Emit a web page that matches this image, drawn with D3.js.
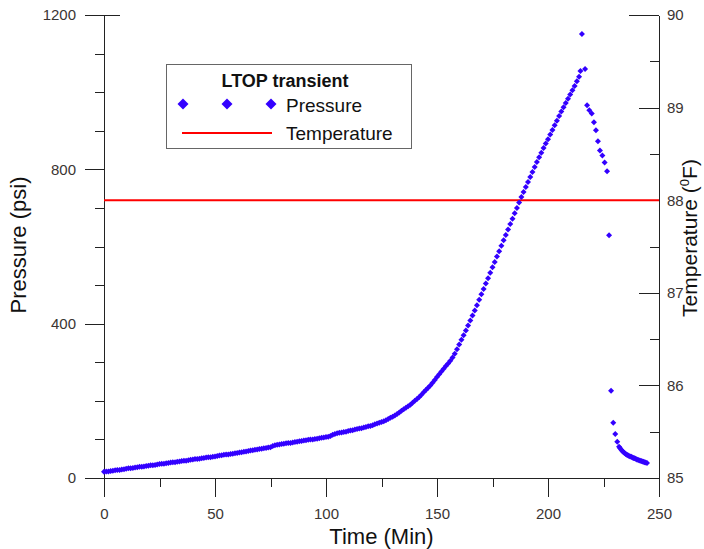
<!DOCTYPE html>
<html>
<head>
<meta charset="utf-8">
<script src="https://cdn.jsdelivr.net/npm/d3@7"></script>
<style>
  body { margin: 0; background: #fff; }
  text { font-family: "Liberation Sans", Arial, sans-serif; }
</style>
</head>
<body>
<div id="chart"></div>
<script>
// pressure readings (time in min, pressure in psi)
var pTime = [
  0,1,2,3,4,5,6,7,8,9,10,11,12,13,14,15,16,17,18,19,20,21,22,23,24,25,26,27,28,29,
  30,31,32,33,34,35,36,37,38,39,40,41,42,43,44,45,46,47,48,49,50,51,52,53,54,55,56,57,58,59,
  60,61,62,63,64,65,66,67,68,69,70,71,72,73,74,75,76,77,78,79,80,81,82,83,84,85,86,87,88,89,
  90,91,92,93,94,95,96,97,98,99,100,101,102,103,104,105,106,107,108,109,110,111,112,113,114,115,116,117,118,119,
  120,121,122,123,124,125,126,127,128,129,130,131,132,133,134,135,136,137,138,139,140,141,142,143,144,145,146,147,148,149,
  150,151,152,153,154,155,156,157,158,159,160,161,162,163,164,165,166,167,168,169,170,171,172,173,174,175,176,177,178,179,
  180,181,182,183,184,185,186,187,188,189,190,191,192,193,194,195,196,197,198,199,200,201,202,203,204,205,206,207,208,209,
  210,211,212,213,214,214.6,215.3,216.7,
  217.6,218.6,219.7,220.7,221.6,222.5,223.4,224.5,225.5,226.6,227.5,228.4,229.4,230.3,231.2,
  232,232.5,233,233.5,234,234.5,235,235.5,236,236.5,237,237.5,238,238.5,239,239.5,240,240.5,
  241,241.5,242,242.5,243,243.5,244,244.6
];
var pValue = [
  16,17,17,18,19,20,21,21,22,23,24,25,25,26,27,28,29,29,30,31,32,33,33,34,35,36,37,37,38,39,
  40,41,41,42,43,44,45,45,46,47,48,49,49,50,51,52,53,54,54,55,56,57,58,59,60,61,61,62,63,64,
  65,66,67,68,69,70,71,72,73,74,75,76,77,78,79,80,83,85,86,87,88,89,90,91,91,92,93,94,95,96,
  97,98,99,100,100,101,102,103,104,105,106,107,109,112,114,116,117,118,119,120,122,123,124,126,127,128,129,131,132,134,
  135,137,139,141,143,145,147,150,153,156,159,162,166,170,174,178,182,186,190,195,200,205,210,216,222,228,234,240,247,254,
  262,269,276,283,290,297,304,312,322,334,346,358,370,382,395,408,421,434,448,462,476,490,504,518,532,546,560,574,588,602,
  616,630,644,658,672,686,700,714,728,741,754,767,780,793,806,819,831,843,855,867,878,890,902,914,926,938,950,961,972,983,
  994,1005,1016,1028,1040,1055,1151,1060,
  966,953,945,922,901,873,849,836,818,795,629,226,143,114,94,
  81,77,73,70,67,65,62,60,59,57,56,55,53,52,51,50,48,47,
  46,45,44,43,42,41,40,39
];
// temperature (degF)
var tTime = [0, 250];
var tValue = [88, 88];

var xMajor = [0, 50, 100, 150, 200, 250];
var xMinor = [25, 75, 125, 175, 225];
var yMajor = [0, 400, 800, 1200];
var yMinor = [100, 200, 300, 500, 600, 700, 900, 1000, 1100];
var rMajor = [85, 86, 87, 88, 89, 90];
var rMinor = [85.5, 86.5, 87.5, 88.5, 89.5];

var width = 704, height = 549;
var margin = {left: 104, right: 45, top: 15, bottom: 71};

var svg = d3.select("#chart").append("svg").attr("width", width).attr("height", height);

var xScale = d3.scaleLinear().domain([0, 250]).range([margin.left, width - margin.right]);
var yScale = d3.scaleLinear().domain([0, 1200]).range([height - margin.bottom, margin.top]);
var rScale = d3.scaleLinear().domain([85, 90]).range([height - margin.bottom, margin.top]);

var axisColor = "#222";
var labelColor = "#3b3533";
var fmt = d3.format("d");

function styleAxis(g) {
    g.select(".domain").attr("stroke", axisColor).attr("shape-rendering", "crispEdges");
    g.selectAll(".tick line").attr("stroke", axisColor).attr("shape-rendering", "crispEdges");
    g.selectAll(".tick text").attr("fill", labelColor).attr("font-size", "15px")
        .attr("font-family", "'Liberation Sans', Arial, sans-serif");
}

// x axis
svg.append("g")
    .attr("transform", "translate(0," + (height - margin.bottom) + ")")
    .call(d3.axisBottom(xScale).tickValues(xMinor).tickSize(9).tickSizeOuter(0).tickFormat(""))
    .call(styleAxis);
svg.append("g")
    .attr("transform", "translate(0," + (height - margin.bottom) + ")")
    .call(d3.axisBottom(xScale).tickValues(xMajor).tickSize(19).tickSizeOuter(0).tickPadding(11).tickFormat(fmt))
    .call(styleAxis);

// left axis
svg.append("g")
    .attr("transform", "translate(" + margin.left + ",0)")
    .call(d3.axisLeft(yScale).tickValues(yMinor).tickSize(9).tickSizeOuter(0).tickFormat(""))
    .call(styleAxis);
var gl = svg.append("g")
    .attr("transform", "translate(" + margin.left + ",0)")
    .call(d3.axisLeft(yScale).tickValues(yMajor).tickSize(19).tickSizeOuter(0).tickPadding(9).tickFormat(fmt))
    .call(styleAxis);
// top tick runs a little into the plot
gl.selectAll(".tick").filter(function(d) { return d === 1200; })
    .select("line").attr("x2", 16).attr("x1", -19);

// right axis
svg.append("g")
    .attr("transform", "translate(" + (width - margin.right) + ",0)")
    .call(d3.axisRight(rScale).tickValues(rMinor).tickSize(-9).tickSizeOuter(0).tickFormat(""))
    .call(styleAxis);
var gr = svg.append("g")
    .attr("transform", "translate(" + (width - margin.right) + ",0)")
    .call(d3.axisRight(rScale).tickValues(rMajor).tickSize(-20).tickSizeOuter(0).tickPadding(8).tickFormat(fmt))
    .call(styleAxis);
gr.selectAll(".tick").filter(function(d) { return d === 90; })
    .select("line").attr("x2", -30);

// axis titles
svg.append("text")
    .attr("x", (xScale(0) + xScale(250)) / 2).attr("y", 544)
    .attr("text-anchor", "middle").attr("font-size", "22px").attr("fill", "#111")
    .text("Time (Min)");

svg.append("text")
    .attr("transform", "translate(26," + 245 + ") rotate(-90)")
    .attr("text-anchor", "middle").attr("font-size", "22px").attr("fill", "#111")
    .text("Pressure (psi)");

var tTitle = svg.append("text")
    .attr("transform", "translate(697," + 238 + ") rotate(-90)")
    .attr("text-anchor", "middle").attr("font-size", "21px").attr("fill", "#111");
tTitle.append("tspan").text("Temperature (");
tTitle.append("tspan").attr("font-size", "13px").attr("dy", "-8").text("0");
tTitle.append("tspan").attr("dy", "8").text("F)");

// temperature line
var tData = tTime.map(function(d, i) { return {t: d, v: tValue[i]}; });
var lineT = d3.line()
    .x(function(d) { return xScale(d.t); })
    .y(function(d) { return rScale(d.v); });
svg.append("path")
    .attr("d", lineT(tData))
    .attr("stroke", "#ff0000").attr("stroke-width", 2).attr("fill", "none");

// pressure points
var pColor = "#3300ff";
var pData = pTime.map(function(d, i) { return {t: d, v: pValue[i]}; });
function diamond(r) {
    return "M0," + (-r) + "L" + r + ",0L0," + r + "L" + (-r) + ",0Z";
}
svg.append("g")
    .selectAll("path")
    .data(pData)
    .enter()
    .append("path")
    .attr("transform", function(d) { return "translate(" + xScale(d.t) + "," + yScale(d.v) + ")"; })
    .attr("d", diamond(3))
    .attr("fill", pColor);

// legend
var lg = svg.append("g");
lg.append("rect")
    .attr("x", 166.5).attr("y", 64.5).attr("width", 245).attr("height", 84)
    .attr("fill", "#fff").attr("stroke", "#666");
lg.append("text")
    .attr("x", 285).attr("y", 87).attr("text-anchor", "middle")
    .attr("font-size", "18px").attr("font-weight", "bold").attr("fill", "#111")
    .text("LTOP transient");
lg.selectAll(".ld")
    .data([183, 227, 271])
    .enter()
    .append("path")
    .attr("transform", function(d) { return "translate(" + d + ",104)"; })
    .attr("d", diamond(5.5))
    .attr("fill", pColor);
lg.append("text")
    .attr("x", 286).attr("y", 112).attr("font-size", "19px").attr("fill", "#111")
    .text("Pressure");
lg.append("line")
    .attr("x1", 182).attr("x2", 272).attr("y1", 133).attr("y2", 133)
    .attr("stroke", "#ff0000").attr("stroke-width", 2);
lg.append("text")
    .attr("x", 286).attr("y", 140).attr("font-size", "19px").attr("fill", "#111")
    .text("Temperature");
</script>
</body>
</html>
